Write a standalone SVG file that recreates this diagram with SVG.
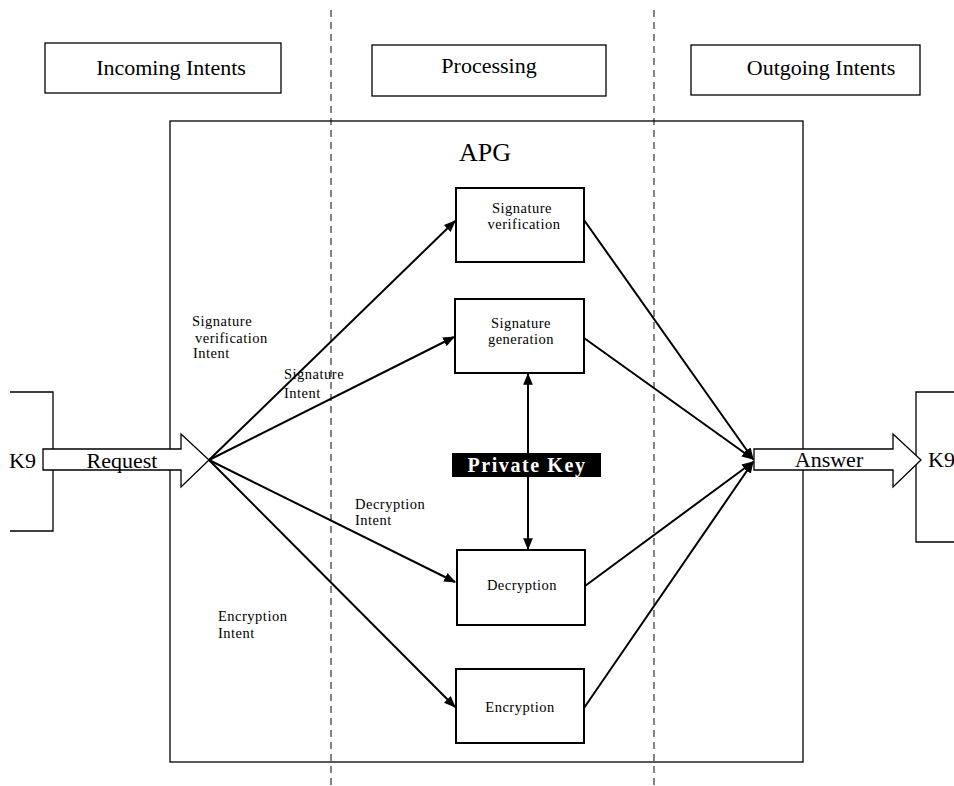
<svg xmlns="http://www.w3.org/2000/svg" width="954" height="786" viewBox="0 0 954 786">
<style>
text{font-family:"Liberation Serif","DejaVu Serif",serif;fill:#000}
.box{fill:#fff;stroke:#000;stroke-width:1.3}
.node{fill:#fff;stroke:#000;stroke-width:2}
.hdr{font-size:22px;text-anchor:middle}
.nl{font-size:14.5px;text-anchor:middle;letter-spacing:0.5px}
.lab{font-size:14.5px;letter-spacing:0.5px}
.big{font-size:22px}
.dash{stroke:#333;stroke-width:1.2;stroke-dasharray:7,5;fill:none}
.edge{stroke:#000;stroke-width:2;fill:none;marker-end:url(#ah)}
.fat{fill:#fff;stroke:#000;stroke-width:1.3}
</style>
<defs>
<marker id="ah" viewBox="0 0 10 10" refX="9" refY="5" markerWidth="6" markerHeight="6" orient="auto" markerUnits="strokeWidth">
<path d="M0,1 L10,5 L0,9 Z" fill="#000"/>
</marker>
</defs>
<rect width="954" height="786" fill="#fff"/>
<g id="lanes">
<line class="dash" x1="331" y1="10" x2="331" y2="786"/>
<line class="dash" x1="654" y1="10" x2="654" y2="786"/>
</g>
<g id="hdr-incoming"><rect class="box" x="45" y="43" width="236" height="50"/><text class="hdr" x="171" y="75">Incoming Intents</text></g>
<g id="hdr-processing"><rect class="box" x="372" y="45" width="234" height="51"/><text class="hdr" x="489" y="73">Processing</text></g>
<g id="hdr-outgoing"><rect class="box" x="691" y="45" width="229" height="50"/><text class="hdr" x="821" y="75">Outgoing Intents</text></g>
<g id="apg"><rect x="170" y="121" width="633" height="641" fill="none" stroke="#000" stroke-width="1.3"/><text x="485" y="161" font-size="26" text-anchor="middle">APG</text></g>
<g id="k9-left"><path d="M10,392 H53 V531 H10" fill="none" stroke="#000" stroke-width="1.3"/><text class="big" x="9" y="468">K9</text></g>
<g id="k9-right"><path d="M954,392 H916 V542 H954" fill="none" stroke="#000" stroke-width="1.3"/><text class="big" x="928" y="467">K9</text></g>
<g id="connectors">
<line class="edge" x1="209" y1="460" x2="455" y2="221"/>
<line class="edge" x1="209" y1="460" x2="454" y2="337"/>
<line class="edge" x1="209" y1="460" x2="455" y2="582"/>
<line class="edge" x1="209" y1="460" x2="455" y2="707"/>
<line class="edge" x1="584" y1="220" x2="753" y2="459"/>
<line class="edge" x1="584" y1="338" x2="753" y2="459"/>
<line class="edge" x1="585" y1="586" x2="753" y2="462"/>
<line class="edge" x1="584" y1="708" x2="753" y2="462"/>
<line class="edge" x1="528" y1="453" x2="528" y2="374"/>
<line class="edge" x1="528" y1="477" x2="528" y2="549"/>
</g>
<g id="request"><path class="fat" d="M43,449 H181 V434 L209,460 L181,487 V470 H43 Z"/><text class="big" x="122" y="468" text-anchor="middle">Request</text></g>
<g id="answer"><path class="fat" d="M754,449 H893 V434 L921,460 L893,487 V470 H754 Z"/><text class="big" x="829" y="467" text-anchor="middle">Answer</text></g>
<g id="sigver"><rect class="node" x="456" y="188" width="128" height="74"/><text class="nl" x="522" y="213">Signature</text><text class="nl" x="524" y="229">verification</text></g>
<g id="siggen"><rect class="node" x="455" y="299" width="129" height="74"/><text class="nl" x="521" y="328">Signature</text><text class="nl" x="521" y="344">generation</text></g>
<g id="privkey"><rect x="452" y="453" width="149" height="24" fill="#000"/><text x="527" y="472" font-size="20" font-weight="bold" text-anchor="middle" style="fill:#fff;letter-spacing:1.6px">Private Key</text></g>
<g id="decryption"><rect class="node" x="457" y="550" width="128" height="75"/><text class="nl" x="522" y="590">Decryption</text></g>
<g id="encryption"><rect class="node" x="456" y="669" width="128" height="74"/><text class="nl" x="520" y="712">Encryption</text></g>
<g id="labels">
<text class="lab" x="192" y="326">Signature</text>
<text class="lab" x="195" y="343">verification</text>
<text class="lab" x="193" y="358">Intent</text>
<text class="lab" x="284" y="379">Signature</text>
<text class="lab" x="284" y="398">Intent</text>
<text class="lab" x="355" y="509">Decryption</text>
<text class="lab" x="355" y="525">Intent</text>
<text class="lab" x="218" y="621">Encryption</text>
<text class="lab" x="218" y="638">Intent</text>
</g>
</svg>
